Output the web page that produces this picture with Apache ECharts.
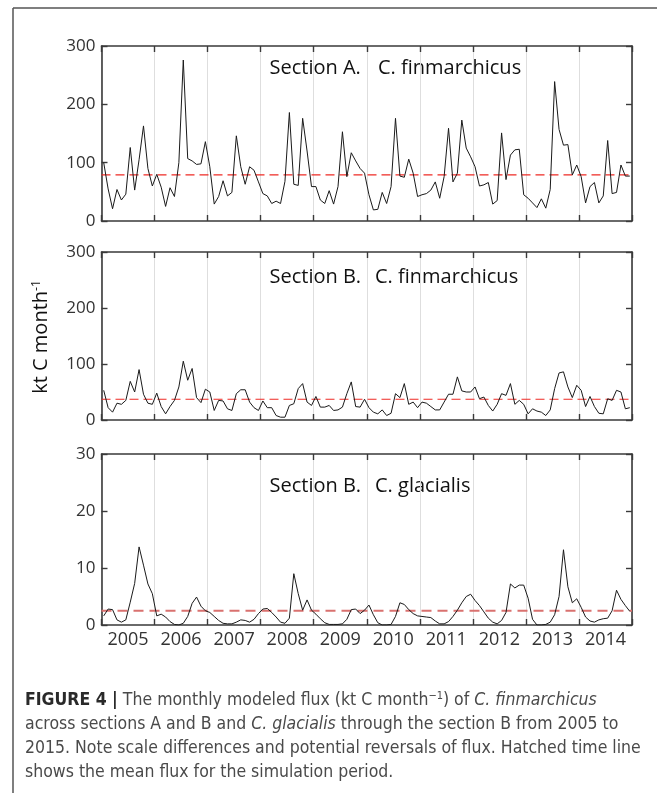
<!DOCTYPE html>
<html><head><meta charset="utf-8">
<script src="https://cdn.jsdelivr.net/npm/echarts@6/dist/echarts.min.js"></script>
<style>html,body{margin:0;padding:0;background:#fff}#c{width:657px;height:793px}</style>
</head><body><div id="c"></div>
<script>
// ---- data ----
const years = ['2005','2006','2007','2008','2009','2010','2011','2012','2013','2014'];
// Section A, C. finmarchicus (kt C month^-1), monthly 2005-2014
const fluxA = [
  100, 55, 21, 54, 36, 46, 126, 53, 105, 163, 90, 60,
  80, 58, 25, 57, 42, 100, 276, 107, 103, 97, 98, 136,
  93, 29, 42, 69, 43, 49, 146, 93, 63, 93, 87, 67,
  47, 43, 30, 34, 30, 68, 186, 63, 61, 176, 120, 59,
  59, 36, 30, 52, 29, 59, 153, 76, 117, 103, 90, 82,
  45, 19, 20, 49, 30, 59, 176, 77, 75, 106, 82, 42,
  45, 47, 53, 67, 39, 76, 159, 67, 82, 173, 125, 110,
  93, 60, 62, 66, 29, 35, 151, 71, 113, 122, 123, 45,
  39, 31, 23, 38, 22, 54, 239, 157, 130, 131, 79, 96,
  76, 31, 59, 66, 31, 43, 138, 47, 49, 96, 77, 77
];
// Section B, C. finmarchicus
const fluxB = [
  53, 22, 14, 30, 28, 35, 69, 50, 90, 46, 30, 28,
  48, 24, 11, 24, 35, 59, 105, 71, 92, 40, 31, 55,
  50, 17, 35, 34, 20, 17, 47, 54, 54, 32, 22, 17,
  34, 22, 22, 8, 5, 5, 26, 29, 56, 65, 32, 26,
  42, 23, 23, 26, 17, 18, 23, 47, 68, 24, 23, 37,
  22, 14, 11, 18, 8, 12, 47, 40, 65, 28, 32, 22,
  32, 30, 24, 18, 18, 32, 46, 46, 77, 52, 50, 50,
  59, 38, 41, 26, 16, 28, 47, 44, 65, 28, 35, 28,
  11, 20, 16, 14, 8, 18, 56, 84, 86, 59, 40, 62,
  53, 24, 42, 24, 12, 11, 38, 35, 53, 50, 20, 22
];
// Section B, C. glacialis
const glacB = [
  1.6, 2.8, 2.7, 0.9, 0.5, 0.9, 4.0, 7.3, 13.7, 10.5, 7.2, 5.5,
  1.6, 1.9, 1.4, 0.6, 0.1, 0.0, 0.3, 1.5, 3.8, 4.9, 3.3, 2.5,
  2.2, 1.5, 0.8, 0.3, 0.2, 0.2, 0.5, 0.9, 0.8, 0.5, 1.0, 2.0,
  2.8, 2.9, 2.2, 1.4, 0.5, 0.3, 1.2, 9.0, 5.5, 2.6, 4.4, 2.6,
  1.9, 1.1, 0.4, 0.1, 0.1, 0.1, 0.2, 1.0, 2.7, 2.8, 2.0, 2.6,
  3.5, 1.8, 0.4, 0.0, 0.0, 0.1, 1.5, 3.9, 3.6, 2.7, 2.0, 1.6,
  1.5, 1.4, 1.3, 0.7, 0.2, 0.2, 0.6, 1.5, 2.6, 3.9, 5.0, 5.4,
  4.3, 3.4, 2.3, 1.2, 0.5, 0.2, 0.8, 2.2, 7.2, 6.5, 7.0, 7.0,
  4.7, 1.0, 0.0, 0.0, 0.1, 0.5, 1.8, 5.0, 13.2, 6.7, 3.9, 4.6,
  3.1, 1.4, 0.7, 0.5, 0.9, 1.1, 1.2, 2.5, 6.1, 4.5, 3.4, 2.4
];
const meanA = 79, meanB = 37, meanG = 2.5;
const yMax = [300, 300, 30];
const yStep = [100, 100, 10];
const sectionNames = ['Section A.', 'Section B.', 'Section B.'];
const speciesNames = ['C. finmarchicus', 'C. finmarchicus', 'C. glacialis'];

// ---- layout ----
const panels = [
  {top: 46, height: 175, values: fluxA, mean: meanA, meanColor: '#ee2a24', meanWidth: 1.1, dash: [9, 5], titleY: 68, spX: 378},
  {top: 252, height: 168, values: fluxB, mean: meanB, meanColor: '#ee2a24', meanWidth: 1.1, dash: [9, 5], titleY: 277, spX: 375},
  {top: 454, height: 171, values: glacB, mean: meanG, meanColor: '#d9716f', meanWidth: 1.8, dash: [10, 6], titleY: 486, spX: 375}
];
const LEFT = 101.5, RIGHT = 25;
const axisCol = '#3a3a3a';
const tickFont = {fontFamily: 'Open Sans', fontSize: 17, color: '#333'};

const grid = [], xAxis = [], yAxis = [], series = [], graphic = [];
panels.forEach((p, g) => {
  grid.push({left: LEFT, right: RIGHT, top: p.top, height: p.height, containLabel: false, outerBoundsMode: 'none'});
  const catBase = {
    type: 'category', gridIndex: g, data: years, boundaryGap: true,
    axisLine: {show: true, onZero: false, lineStyle: {color: axisCol, width: 1.6}},
    axisTick: {show: true, inside: true, length: 6, interval: 0, lineStyle: {color: axisCol, width: 1.4}}
  };
  xAxis.push(Object.assign({}, catBase, {
    position: 'bottom',
    axisLabel: {show: g === 2, interval: 0, margin: 6, ...tickFont, fontSize: 18},
    splitLine: {show: true, interval: 0, lineStyle: {color: '#dedede', width: 1}}
  }));
  xAxis.push(Object.assign({}, catBase, {position: 'top', axisLabel: {show: false}, splitLine: {show: false}}));
  xAxis.push({type: 'value', gridIndex: g, min: 0, max: 120, show: false});
  const yBase = {
    type: 'value', gridIndex: g, min: 0, max: yMax[g], interval: yStep[g],
    axisLine: {show: true, onZero: false, lineStyle: {color: axisCol, width: 1.6}},
    axisTick: {show: true, inside: true, length: 6, lineStyle: {color: axisCol, width: 1.4}},
    splitLine: {show: false}
  };
  yAxis.push(Object.assign({}, yBase, {position: 'left', axisLabel: {show: true, margin: 6, ...tickFont}}));
  yAxis.push(Object.assign({}, yBase, {position: 'right', axisLabel: {show: false}}));
  // mean flux (dashed)
  series.push({
    type: 'line', xAxisIndex: 3 * g + 2, yAxisIndex: 2 * g,
    data: [[0, p.mean], [120, p.mean]],
    showSymbol: false, symbol: 'none', animation: false, silent: true,
    lineStyle: {color: p.meanColor, width: p.meanWidth, type: p.dash},
    itemStyle: {color: p.meanColor},
    z: 2
  });
  series.push({
    type: 'line', xAxisIndex: 3 * g + 2, yAxisIndex: 2 * g,
    data: p.values.map((v, i) => [i + 0.5, v]),
    showSymbol: false, symbol: 'none', animation: false,
    lineStyle: {color: '#1a1a1a', width: 1},
    itemStyle: {color: '#1a1a1a'},
    z: 3
  });
  graphic.push({type: 'text', x: 269.5, y: p.titleY,
    style: {text: sectionNames[g], font: '20px "Open Sans"', fill: '#111', verticalAlign: 'middle', align: 'left'}});
  graphic.push({type: 'text', x: p.spX, y: p.titleY,
    style: {text: speciesNames[g], font: '20px "Open Sans"', fill: '#111', verticalAlign: 'middle', align: 'left'}});
});

// frame
graphic.push({type: 'line', shape: {x1: 13, y1: 8, x2: 657, y2: 8}, style: {stroke: '#555', lineWidth: 1.5}});
graphic.push({type: 'line', shape: {x1: 13, y1: 8, x2: 13, y2: 793}, style: {stroke: '#555', lineWidth: 1.5}});

// y-axis title
graphic.push({type: 'text', x: 41, y: 337, rotation: Math.PI / 2,
  style: {text: 'kt C month{sup|-1}', font: '20px "Open Sans"', fill: '#111', align: 'center', verticalAlign: 'middle',
    rich: {sup: {fontSize: 12, fontFamily: 'Open Sans', verticalAlign: 'top', fill: '#111'}}}});

// caption
const capFont = '"Liberation Sans Narrow", "DejaVu Sans Condensed", sans-serif';
const capRich = {
  b: {fontWeight: 'bold', fontFamily: capFont, fontSize: 17.5, fill: '#2a2a2a'},
  i: {fontStyle: 'italic', fontFamily: capFont, fontSize: 17.5, fill: '#4a4a4a'},
  s: {fontFamily: capFont, fontSize: 11, fill: '#4a4a4a', verticalAlign: 'top'}
};
const capLines = [
  '{b|FIGURE 4 |} The monthly modeled flux (kt C month{s|\u22121}) of {i|C. finmarchicus}',
  'across sections A and B and {i|C. glacialis} through the section B from 2005 to',
  '2015. Note scale differences and potential reversals of flux. Hatched time line',
  'shows the mean flux for the simulation period.'
];
const capY = [700, 724, 748, 772];
capLines.forEach((t, k) => {
  graphic.push({type: 'text', x: 25, y: capY[k],
    style: {text: t, fontFamily: capFont, fontSize: 17.5, fill: '#4a4a4a', verticalAlign: 'middle', align: 'left', rich: capRich}});
});

const chart = echarts.init(document.getElementById('c'), null, {renderer: 'canvas'});
chart.setOption({animation: false, backgroundColor: '#fff', grid, xAxis, yAxis, series, graphic});
</script></body></html>
